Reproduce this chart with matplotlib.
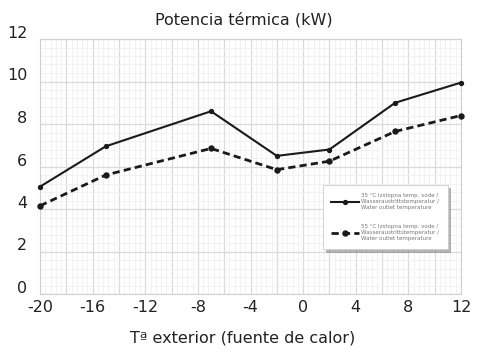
import matplotlib
matplotlib.use("Agg")
import matplotlib.pyplot as plt
from matplotlib.ticker import MultipleLocator
from matplotlib.transforms import ScaledTranslation

# Data
temps = [-20, -15, -7, -2, 2, 7, 12]
power_35 = [5.05, 6.95, 8.6, 6.5, 6.8, 9.0, 9.95]
power_55 = [4.15, 5.6, 6.85, 5.85, 6.25, 7.65, 8.4]
x_ticks = [-20, -16, -12, -8, -4, 0, 4, 8, 12]
x_tick_labels = ["-20", "-16", "-12", "-8", "-4", "0", "4", "8", "12"]
y_ticks = [0, 2, 4, 6, 8, 10, 12]
y_tick_labels = ["0", "2", "4", "6", "8", "10", "12"]
label_35 = "35 °C Izstopna temp. vode /\nWasseraustrittstemperatur /\nWater outlet temperature"
label_55 = "55 °C Izstopna temp. vode /\nWasseraustrittstemperatur /\nWater outlet temperature"
title = "Potencia térmica (kW)"
xlabel = "Tª exterior (fuente de calor)"

plt.rcParams['font.family'] = ['DejaVu Sans']

fig = plt.figure(figsize=(4.82, 3.5), dpi=100)
ax = fig.add_axes([40/482, 1-294/350, 421/482, 255/350])

ax.plot(temps, power_35, color='#1a1a1a', lw=1.5, marker='o', ms=2.8,
        clip_on=False, zorder=5, label=label_35)
ax.plot(temps, power_55, color='#1a1a1a', lw=2.0, ls=(0, (2.6, 1.5)), marker='o', ms=3.6,
        clip_on=False, zorder=5, label=label_55)

ax.set_xlim(-20, 12)
ax.set_ylim(0, 12)
major_x = list(range(-20, 13, 2))
ax.set_xticks(major_x)
ax.set_xticklabels([x_tick_labels[x_ticks.index(v)] if v in x_ticks else "" for v in major_x])
ax.set_yticks(y_ticks)
ax.set_yticklabels(y_tick_labels)
ax.xaxis.set_minor_locator(MultipleLocator(0.4))
ax.yaxis.set_minor_locator(MultipleLocator(0.4))

ax.grid(which='major', color='#dadada', lw=0.9)
ax.grid(which='minor', color='#f0f0f0', lw=0.6)
ax.set_axisbelow(True)
ax.tick_params(which='both', length=0)
ax.tick_params(axis='x', labelsize=11.5, pad=4, colors='#222222')
ax.tick_params(axis='y', labelsize=11.5, pad=9, colors='#222222')
for sp in ax.spines.values():
    sp.set_color('#d0d0d0')
    sp.set_linewidth(0.8)

off = ScaledTranslation(0, 7/100, fig.dpi_scale_trans)
for lab in ax.get_yticklabels():
    lab.set_transform(lab.get_transform() + off)

fig.text(0.505, 1-20/350, title, ha='center', va='center', fontsize=11.5, color='#222222')
fig.text(0.503, 1-338/350, xlabel, ha='center', va='center', fontsize=11.5, color='#222222')

leg = ax.legend(loc='upper left', bbox_to_anchor=((323-40)/421, (294-185)/255),
                fontsize=4.0, labelcolor='#777777', frameon=True, fancybox=False,
                shadow={'color': '#888888', 'alpha': 0.6}, edgecolor='#cccccc',
                handlelength=5.0, handletextpad=0.4, labelspacing=2.6,
                borderpad=1.5, borderaxespad=0)
leg.get_frame().set_linewidth(0.6)

fig.savefig("out.png", dpi=100)
